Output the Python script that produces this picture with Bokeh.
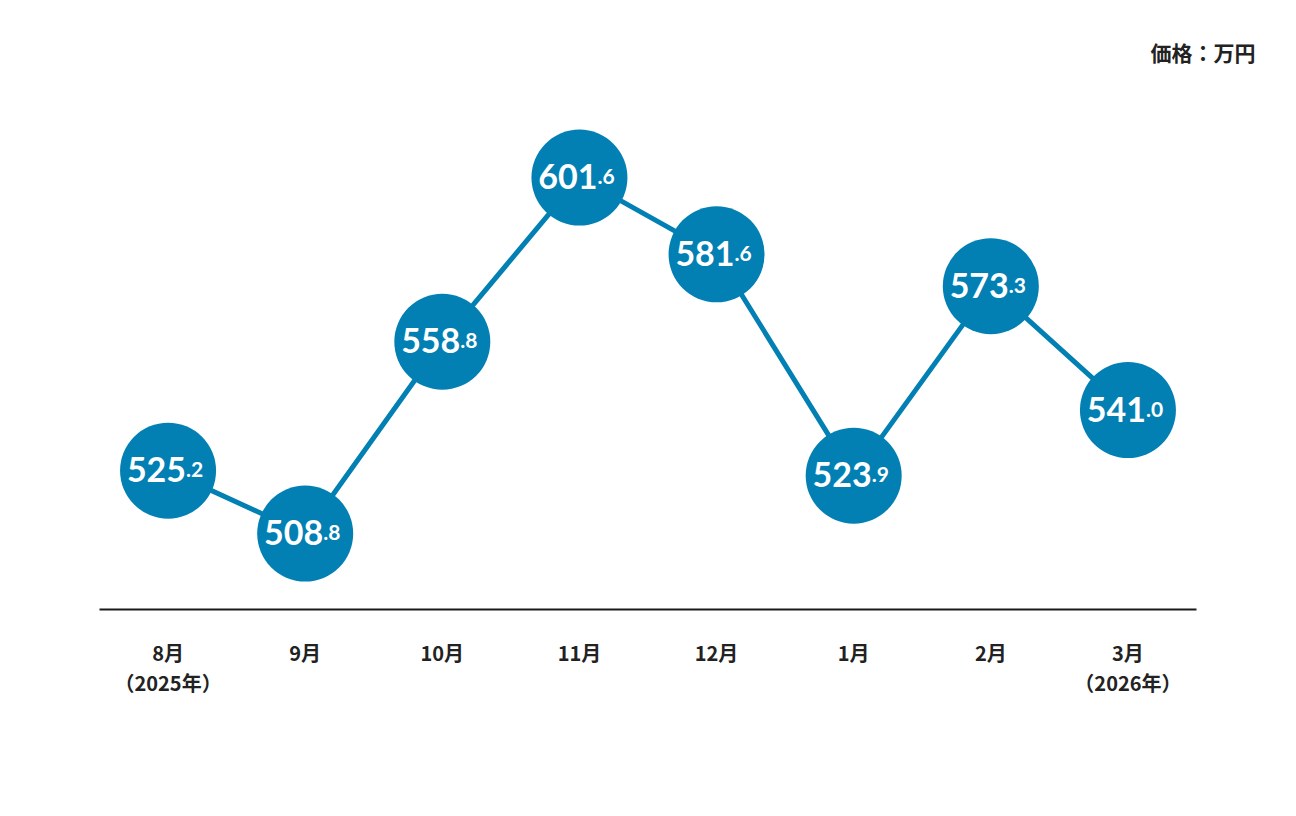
from bokeh.plotting import figure
from bokeh.models import ColumnDataSource, Range1d, Title, FixedTicker
from bokeh.core.properties import value
from bokeh.embed import file_html
from bokeh.resources import INLINE

months = ["8月", "9月", "10月", "11月", "12月", "1月", "2月", "3月"]
years = ["（2025年）", "", "", "", "", "", "", "（2026年）"]
prices = [525.2, 508.8, 558.8, 601.6, 581.6, 523.9, 573.3, 541.0]
unit_label = "価格：万円"

COLOR = "#0280B4"
xs = list(range(len(months)))
main_txt = [f"{v:.1f}".split(".")[0] for v in prices]
dec_txt = ["." + f"{v:.1f}".split(".")[1] for v in prices]

src = ColumnDataSource(dict(x=xs, y=prices, main=main_txt, dec=dec_txt))

p = figure(width=1280, height=800, output_backend="svg", toolbar_location=None,
           x_range=Range1d(-0.5, 7.5), y_range=Range1d(489.0, 621.7),
           min_border_left=99, min_border_right=84, min_border_top=100, min_border_bottom=191)
p.outline_line_color = None
p.background_fill_color = "white"
p.border_fill_color = "white"
p.grid.visible = False
p.yaxis.visible = False

ax = p.xaxis[0]
ax.ticker = FixedTicker(ticks=xs)
ax.major_label_overrides = {i: (m + ("\n" + y if y else "")) for i, (m, y) in enumerate(zip(months, years))}
ax.major_tick_line_color = None
ax.minor_tick_line_color = None
ax.axis_line_color = "#1a1a1a"
ax.axis_line_width = 2
ax.major_label_standoff = 22
ax.major_label_text_font = "Noto Sans CJK JP"
ax.major_label_text_font_style = "bold"
ax.major_label_text_font_size = "20px"
ax.major_label_text_color = "#222222"
ax.major_label_text_line_height = 1.05

p.line("x", "y", source=src, line_color=COLOR, line_width=5)
p.scatter("x", "y", source=src, size=96, fill_color=COLOR, line_color=None)

p.text("x", "y", text="main", source=src, x_offset=18, y_offset=-1,
       text_align="right", text_baseline="alphabetic", text_color="white",
       text_font=value("Lato"), text_font_style="bold", text_font_size="34px")
p.text("x", "y", text="dec", source=src, x_offset=18, y_offset=-1,
       text_align="left", text_baseline="alphabetic", text_color="white",
       text_font=value("Lato"), text_font_style="bold", text_font_size="21px")

title = Title(text=unit_label, align="right", offset=-59, standoff=67,
              text_font="Noto Sans CJK JP", text_font_style="bold",
              text_font_size="21px", text_color="#222222")
p.add_layout(title, "above")

open("out.html", "w").write(file_html(p, INLINE))
